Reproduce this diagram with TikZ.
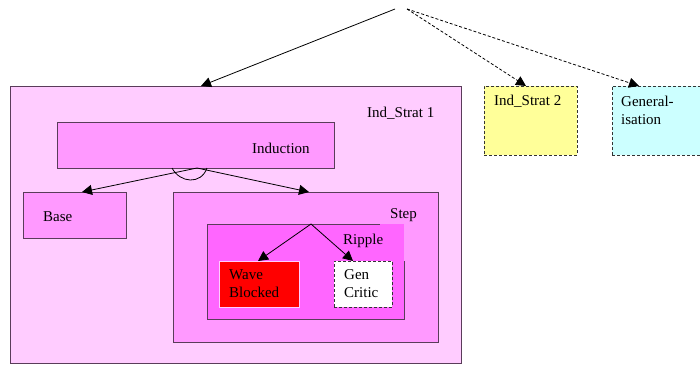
\documentclass[tikz,border=0pt]{standalone}
\usepackage{fontspec}
\setmainfont{Liberation Serif}
\usetikzlibrary{arrows.meta,calc}
\definecolor{pinkA}{HTML}{FFCCFF}
\definecolor{pinkB}{HTML}{FF99FF}
\definecolor{pinkC}{HTML}{FF66FF}
\definecolor{yellowA}{HTML}{FFFF99}
\definecolor{cyanA}{HTML}{CCFFFF}
\definecolor{edgec}{HTML}{5A3C5A}
\begin{document}
\begin{tikzpicture}[x=1pt,y=-1pt,
  box/.style={draw=edgec, line width=1pt, inner sep=0pt, outer sep=0pt, anchor=north west},
  dbox/.style={box, draw=black!80, dash pattern=on 3pt off 2pt},
  lbl/.style={inner sep=0pt, anchor=west, font=\fontsize{15}{18}\selectfont, align=left},
  arr/.style={-{Triangle[length=10pt,width=10pt]}, line width=0.8pt},
  darr/.style={arr, dash pattern=on 3pt off 2pt},
]
\useasboundingbox (0,0) rectangle (700,365);
% boxes
\node[box, fill=pinkA, minimum width=451pt, minimum height=277pt] (is1) at (10,86) {};
\node[box, fill=pinkB, minimum width=277pt, minimum height=46pt] (ind) at (57,122) {};
\node[box, fill=pinkB, minimum width=103pt, minimum height=46pt] (base) at (23,192) {};
\node[box, fill=pinkB, minimum width=265pt, minimum height=150pt] (step) at (173,192) {};
\node[box, draw=none, fill=pinkC, minimum width=197pt, minimum height=95pt] (rip) at (207,224) {};
\draw[draw=edgec, line width=1pt] (rip.north west) -- ++(173,0);
\draw[draw=edgec, line width=1pt] ([yshift=-37pt]rip.north east) -- (rip.south east) -- (rip.south west) -- (rip.north west);
\node[box, draw=pinkA, line width=0.6pt, fill=red, minimum width=80pt, minimum height=46pt] (wave) at (219,261) {};
\node[dbox, fill=white, minimum width=58pt, minimum height=46pt] (gcr) at (334,261) {};
\node[dbox, fill=yellowA, minimum width=93pt, minimum height=69pt] (is2) at (484,86) {};
\node[dbox, fill=cyanA, minimum width=100pt, minimum height=69pt] (gen) at (612,86) {};
% labels
\node[lbl] (tis1) at (367,113) {Ind\_Strat 1};
\node[lbl] (tind) at (252,148) {Induction};
\node[lbl] (tbase) at (43,216.5) {Base};
\node[lbl] (tstep) at (390,215) {Step};
\node[lbl] (trip) at (343,240.5) {Ripple};
\node[lbl] (twave) at (229,284) {Wave\\Blocked};
\node[lbl] (tgcr) at (344,284) {Gen\\Critic};
\node[lbl] (tis2) at (494,101.5) {Ind\_Strat 2};
\node[lbl] (tgen) at (621,110) {General-\\isation};
% connectors
\coordinate (top1) at (395,9);
\coordinate (top2) at (407,9);
\draw[arr] (top1) -- ([xshift=191pt]is1.north west);
\draw[darr] (top2) -- ([xshift=42pt]is2.north west);
\draw[darr] (top2) -- ([xshift=27pt]gen.north west);
\coordinate (inds) at ([xshift=140pt]ind.south west);
\draw[arr] (inds) -- ([xshift=59pt]base.north west);
\draw[arr] (inds) -- ([xshift=136pt]step.north west);
\draw[line width=0.8pt] ([xshift=115pt]ind.south west) .. controls +(8,15) and +(-6,17) .. ([xshift=150pt]ind.south west);
\coordinate (rips) at ([xshift=104pt]rip.north west);
\draw[arr] (rips) -- ([xshift=39pt]wave.north west);
\draw[arr] (rips) -- ([xshift=19pt]gcr.north west);
\end{tikzpicture}
\end{document}
